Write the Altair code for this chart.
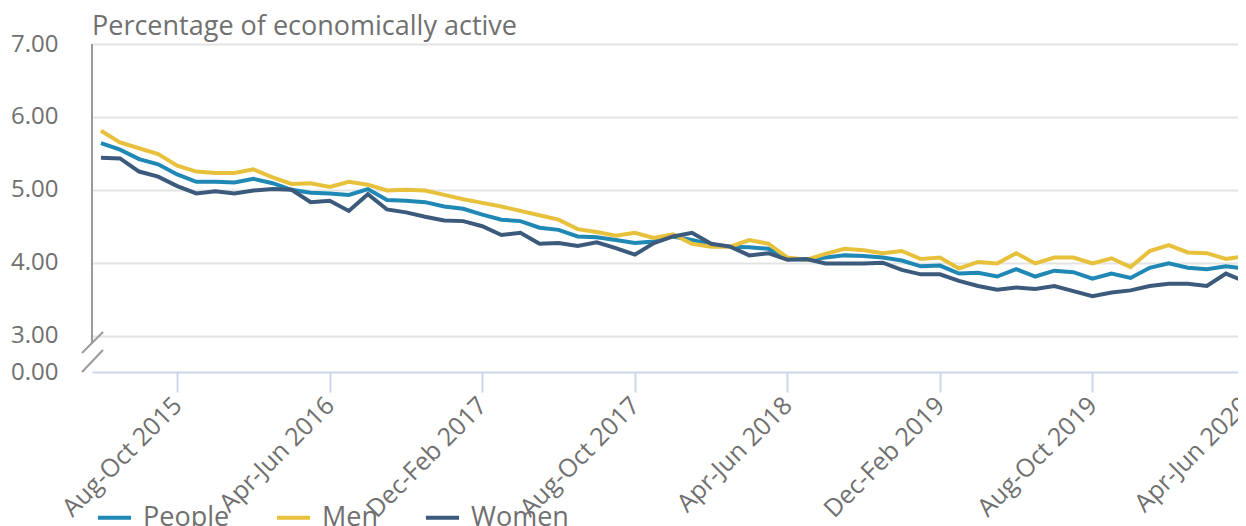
import altair as alt
import pandas as pd

MONTHS = ["Jan", "Feb", "Mar", "Apr", "May", "Jun", "Jul", "Aug", "Sep", "Oct", "Nov", "Dec"]

# rolling three-month periods, Apr-Jun 2015 ... Apr-Jun 2020
periods = []
for i in range(61):
    k = 3 + i
    m0 = k % 12
    m1 = (k + 2) % 12
    yr = 2015 + (k + 2) // 12
    periods.append(f"{MONTHS[m0]}-{MONTHS[m1]} {yr}")

people = [5.64, 5.55, 5.42, 5.35, 5.21, 5.11, 5.11, 5.10, 5.15, 5.09, 5.00, 4.96, 4.95,
          4.93, 5.01, 4.86, 4.85, 4.83, 4.77, 4.74, 4.66, 4.59, 4.57, 4.48, 4.45,
          4.36, 4.35, 4.31, 4.27, 4.29, 4.36, 4.31, 4.25, 4.22, 4.21, 4.19, 4.05,
          4.04, 4.07, 4.10, 4.09, 4.07, 4.03, 3.95, 3.96, 3.85, 3.86, 3.81, 3.91,
          3.81, 3.89, 3.87, 3.78, 3.85, 3.79, 3.93, 3.99, 3.93, 3.91, 3.95, 3.92]

men = [5.81, 5.65, 5.57, 5.49, 5.33, 5.25, 5.23, 5.23, 5.28, 5.17, 5.08, 5.09, 5.04,
       5.11, 5.07, 4.99, 5.00, 4.99, 4.93, 4.87, 4.82, 4.77, 4.71, 4.65, 4.59,
       4.46, 4.42, 4.37, 4.41, 4.34, 4.39, 4.26, 4.22, 4.22, 4.31, 4.26, 4.07,
       4.04, 4.12, 4.19, 4.17, 4.13, 4.16, 4.05, 4.07, 3.92, 4.01, 3.99, 4.13,
       3.99, 4.07, 4.07, 3.99, 4.06, 3.94, 4.16, 4.24, 4.14, 4.13, 4.05, 4.09]

women = [5.44, 5.43, 5.25, 5.18, 5.05, 4.95, 4.98, 4.95, 4.99, 5.01, 5.00, 4.83, 4.85,
         4.71, 4.94, 4.73, 4.69, 4.63, 4.58, 4.57, 4.50, 4.38, 4.41, 4.26, 4.27,
         4.23, 4.28, 4.20, 4.11, 4.27, 4.36, 4.41, 4.26, 4.22, 4.10, 4.13, 4.04,
         4.05, 3.99, 3.99, 3.99, 4.00, 3.90, 3.84, 3.84, 3.75, 3.68, 3.63, 3.66,
         3.64, 3.68, 3.61, 3.54, 3.59, 3.62, 3.68, 3.71, 3.71, 3.68, 3.85, 3.74]

series_names = ["People", "Men", "Women"]
series_colors = ["#1f88b4", "#e8c13c", "#3c5a7b"]
x_tick_idx = [4, 12, 20, 28, 36, 44, 52, 60]
y_ticks = [2.5, 3, 4, 5, 6, 7]

rows = []
for name, vals in zip(series_names, [people, men, women]):
    for i, v in enumerate(vals):
        rows.append({"idx": i, "period": periods[i], "series": name, "value": v})
df = pd.DataFrame(rows)

FONT = "Open Sans"
GREY = "#707070"
label_lookup = "[" + ",".join(f"'{p}'" for p in periods) + "][datum.value]"

lines = alt.Chart(df).mark_line(strokeWidth=4).encode(
    x=alt.X("idx:Q",
            scale=alt.Scale(domain=[-0.47, 60], nice=False, zero=False),
            axis=alt.Axis(values=x_tick_idx, labelExpr=label_lookup, title=None,
                          grid=False, domainColor="#ccd6eb", domainWidth=2,
                          tickColor="#ccd6eb", tickWidth=2, tickSize=20,
                          labelAngle=315, labelAlign="right", labelBaseline="middle",
                          labelPadding=9, labelFontSize=25, labelColor=GREY,
                          labelFont=FONT, labelOverlap=False)),
    y=alt.Y("value:Q",
            scale=alt.Scale(domain=[2.5, 7], nice=False, zero=False),
            axis=alt.Axis(values=y_ticks,
                          labelExpr="datum.value < 2.9 ? '0.00' : format(datum.value, '.2f')",
                          title=None, domain=False, ticks=False, labelPadding=34,
                          labelFontSize=24, labelColor=GREY, labelFont=FONT,
                          gridColor="#e3e3e3", gridWidth=2,
                          gridOpacity={"condition": {"test": "datum.value < 2.9", "value": 0}, "value": 1})),
    color=alt.Color("series:N",
                    scale=alt.Scale(domain=series_names, range=series_colors),
                    legend=alt.Legend(title=None, orient="none", legendX=4, legendY=455,
                                      direction="horizontal", symbolType="stroke",
                                      symbolStrokeWidth=4, symbolSize=1089,
                                      labelFontSize=27, labelColor=GREY, labelFont=FONT,
                                      labelOffset=10, columnPadding=39, labelLimit=400)),
)

yline = alt.Chart().mark_rule(color="#9a9a9a", strokeWidth=2).encode(
    x=alt.value(0), y=alt.value(0), y2=alt.value(299))
slash1 = alt.Chart().mark_rule(color="#9a9a9a", strokeWidth=2).encode(
    x=alt.value(-10), x2=alt.value(11), y=alt.value(309), y2=alt.value(288))
slash2 = alt.Chart().mark_rule(color="#9a9a9a", strokeWidth=2).encode(
    x=alt.value(-10), x2=alt.value(11), y=alt.value(328), y2=alt.value(306))

chart = alt.layer(lines, yline, slash1, slash2).properties(
    width=1153, height=328,
    autosize=alt.AutoSizeParams(type="none"),
    padding={"left": 84, "top": 36, "right": -7, "bottom": 160},
    title=alt.TitleParams("Percentage of economically active", anchor="start",
                          frame="group", fontSize=27, font=FONT, fontWeight="normal",
                          color=GREY, offset=0, baseline="alphabetic", dy=30),
).configure_view(stroke=None)

chart.save("out.html", embed_options={"renderer": "svg", "actions": False})
